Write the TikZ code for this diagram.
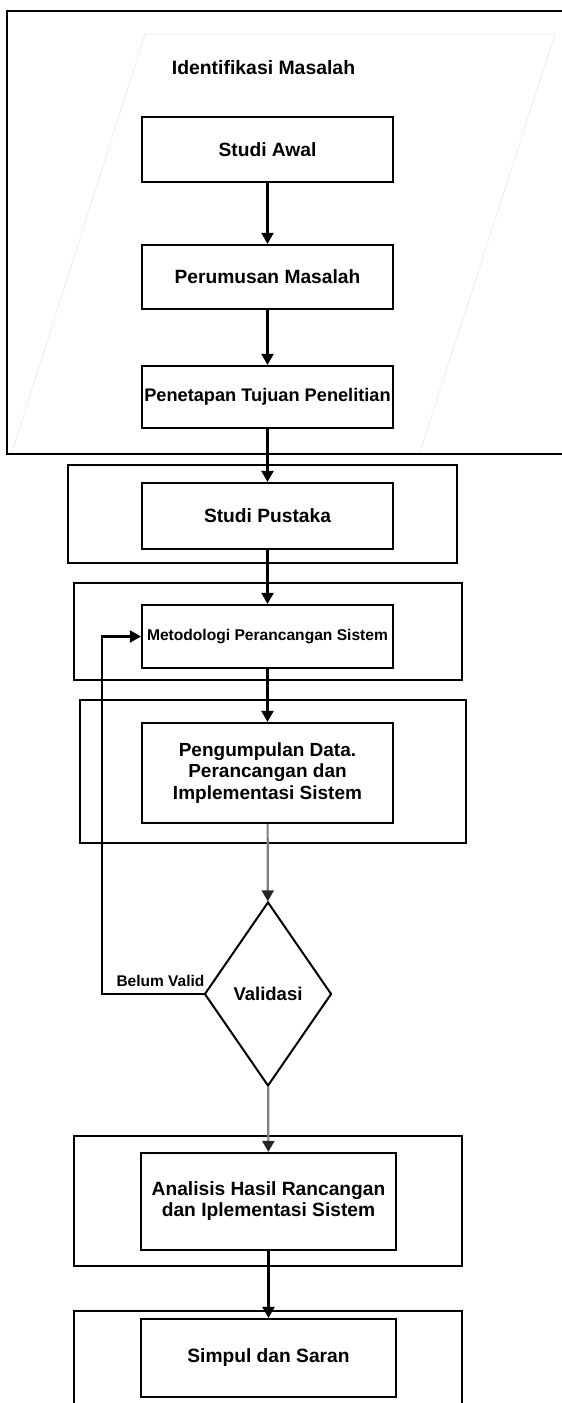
\documentclass[tikz,border=0pt]{standalone}
\usepackage{fontspec}
\setmainfont{Liberation Sans}
\usetikzlibrary{arrows.meta,shapes.geometric}

\tikzset{
  txt/.style={font=\bfseries\fontsize{19.2}{21.5}\selectfont, align=center},
  stepbox/.style={txt, draw=black, line width=2.2pt, minimum width=251pt, inner sep=2pt},
  groupbox/.style={draw=black, line width=2.4pt, inner sep=0pt},
  decision/.style={txt, draw=black, line width=2pt, diamond, aspect=0.69, minimum width=127pt, minimum height=184pt, inner sep=0pt},
  arr/.style={draw=black, line width=2.2pt, -{Triangle[width=12pt,length=11pt]}},
  grayarr/.style={draw=black!50, line width=2.2pt, -{Triangle[width=12pt,length=11pt,color=black!85]}},
  lbl/.style={font=\bfseries\fontsize{15.5}{18}\selectfont, inner sep=0pt},
  ghost/.style={draw=black!7, line width=0.8pt}
}

\begin{document}
\begin{tikzpicture}[x=1pt, y=-1pt]
  \clip (0,0) rectangle (562,1403);
  \fill[white] (0,0) rectangle (562,1403);

  % group frames
  \node[groupbox, minimum width=568pt, minimum height=443pt] (g1) at (291,232.5) {};
  \draw[ghost] (145,34) -- (555,34) -- (420,452) -- (12,452) -- cycle;
  \node[groupbox, minimum width=389pt, minimum height=98pt] (g2) at (262.5,514) {};
  \node[groupbox, minimum width=388pt, minimum height=97pt] (g3) at (268,631.5) {};
  \node[groupbox, minimum width=386pt, minimum height=143pt] (g4) at (273,771.5) {};
  \node[groupbox, minimum width=388pt, minimum height=130pt] (g5) at (268,1201) {};
  \node[groupbox, minimum width=388pt, minimum height=110pt] (g6) at (268,1366) {};

  % title of the first group
  \node[txt, font=\bfseries\fontsize{19.4}{21.5}\selectfont] (title) at (263.5,68) {Identifikasi Masalah};

  % process steps
  \node[stepbox, minimum height=65pt] (awal) at (267.5,149.5) {Studi Awal};
  \node[stepbox, minimum height=64pt] (rumus) at (267.5,277) {Perumusan Masalah};
  \node[stepbox, minimum height=62pt, inner sep=0.5pt, font=\bfseries\fontsize{18.2}{21}\selectfont] (tujuan) at (267.5,397) {Penetapan Tujuan Penelitian};
  \node[stepbox, minimum height=66pt] (pustaka) at (267.5,516) {Studi Pustaka};
  \node[stepbox, minimum height=63pt, font=\bfseries\fontsize{15.6}{18}\selectfont] (metod) at (267.5,636.5) {Metodologi Perancangan Sistem};
  \node[stepbox, minimum height=100pt, font=\bfseries\fontsize{19}{21.5}\selectfont] (kumpul) at (267.5,773) {Pengumpulan Data.\\Perancangan dan\\Implementasi Sistem};
  \node[decision, font=\bfseries\fontsize{18.5}{21}\selectfont] (valid) at (268,994) {Validasi};
  \node[stepbox, minimum width=255pt, minimum height=97pt, font=\bfseries\fontsize{19.2}{21}\selectfont] (analisis) at (268.5,1201.5) {Analisis Hasil Rancangan\\dan Iplementasi Sistem};
  \node[stepbox, minimum width=255pt, minimum height=78pt] (simpul) at (268.5,1358) {Simpul dan Saran};

  % connectors
  \draw[arr] (awal) -- (rumus);
  \draw[arr] (rumus) -- (tujuan);
  \draw[arr] (tujuan) -- (pustaka);
  \draw[arr] (pustaka) -- (metod);
  \draw[arr] (metod) -- (kumpul);
  \draw[grayarr] (kumpul) -- (valid);
  \draw[grayarr] (valid) -- (analisis);
  \draw[arr] (analisis) -- (simpul);

  % feedback loop
  \draw[arr] (valid.west) -- node[lbl, pos=0, anchor=base east, xshift=2pt, yshift=8pt] {Belum Valid} (102,994) |- (metod.west);
\end{tikzpicture}
\end{document}
